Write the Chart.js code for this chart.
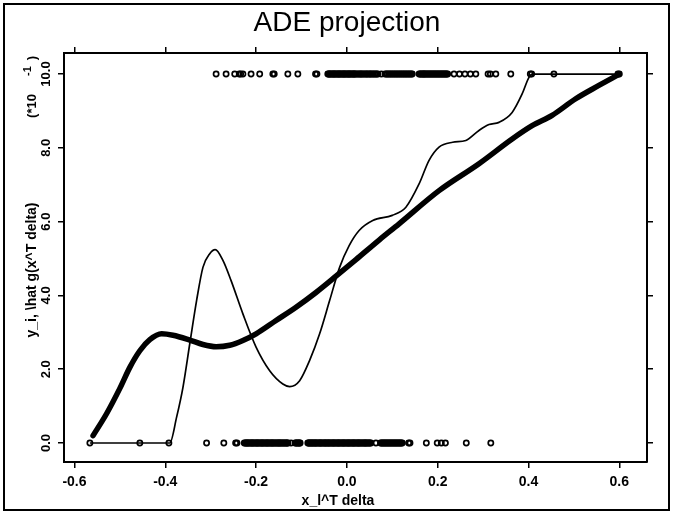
<!DOCTYPE html>
<html>
<head>
<meta charset="utf-8">
<script src="https://cdn.jsdelivr.net/npm/chart.js@4"></script>
<style>
  html, body { margin: 0; padding: 0; background: #fff; }
  canvas { display: block; }
</style>
</head>
<body>
<canvas id="chart" width="673" height="513"></canvas>
<script>
// Tick positions on the two axes
const xTickValues = [-0.6, -0.4, -0.2, 0, 0.2, 0.4, 0.6];
const yTickValues = [0, 0.2, 0.4, 0.6, 0.8, 1.0];

// ADE link estimate \hat g (thick curve)
const adeX = [-0.559, -0.529, -0.500, -0.478, -0.456, -0.434, -0.408, -0.383, -0.346, -0.317,
              -0.288, -0.258, -0.229, -0.200, -0.156, -0.112, -0.068, -0.024, 0.020, 0.071,
              0.115, 0.203, 0.291, 0.364, 0.408, 0.452, 0.504, 0.555, 0.599];
const adeY = [0.020, 0.080, 0.148, 0.205, 0.250, 0.280, 0.296, 0.292, 0.279, 0.267,
              0.261, 0.265, 0.278, 0.296, 0.332, 0.368, 0.408, 0.452, 0.497, 0.550,
              0.594, 0.684, 0.757, 0.824, 0.860, 0.888, 0.933, 0.969, 0.999];

// Kernel smooth of y_i on the projection (thin curve)
const kernelX = [-0.566, -0.390, -0.375, -0.361, -0.346, -0.331, -0.317, -0.302, -0.290, -0.273,
                 -0.255, -0.229, -0.200, -0.170, -0.141, -0.126, -0.104, -0.082, -0.060, -0.038,
                 -0.016, 0.005, 0.027, 0.057, 0.100, 0.130, 0.159, 0.181, 0.203, 0.233,
                 0.262, 0.291, 0.313, 0.335, 0.364, 0.386, 0.401, 0.408, 0.599];
const kernelY = [0.000, 0.000, 0.070, 0.151, 0.269, 0.386, 0.476, 0.513, 0.524, 0.495,
                 0.440, 0.350, 0.260, 0.196, 0.160, 0.153, 0.169, 0.224, 0.296, 0.386,
                 0.476, 0.535, 0.576, 0.603, 0.617, 0.639, 0.702, 0.766, 0.802, 0.815,
                 0.820, 0.847, 0.863, 0.869, 0.896, 0.946, 0.991, 1.000, 1.000];

// Projections x_l^T delta of the observations with y_i = 0
const obsZeroX = [-0.566, -0.456, -0.392, -0.309, -0.271, -0.245, -0.242,
  -0.226, -0.224, -0.222, -0.220, -0.219, -0.217, -0.215, -0.213, -0.211, -0.209, -0.208,
  -0.206, -0.204, -0.202, -0.200, -0.198, -0.197, -0.195, -0.193, -0.191, -0.189, -0.187,
  -0.186, -0.184, -0.182, -0.180, -0.178, -0.176, -0.175, -0.173, -0.171, -0.169, -0.167,
  -0.165, -0.164, -0.162, -0.160, -0.158, -0.156, -0.154, -0.152, -0.150, -0.149, -0.147,
  -0.145, -0.143, -0.141, -0.139, -0.137, -0.135, -0.133, -0.131, -0.130, -0.123,
  -0.114, -0.112, -0.110, -0.108, -0.106, -0.104, -0.103,
  -0.086, -0.084, -0.083, -0.081, -0.079, -0.077, -0.076, -0.074, -0.072, -0.070, -0.069,
  -0.067, -0.065, -0.063, -0.061, -0.059, -0.058, -0.056, -0.054, -0.052, -0.050, -0.048,
  -0.047, -0.045, -0.043, -0.041, -0.040, -0.038, -0.036, -0.034, -0.032, -0.030, -0.029,
  -0.027, -0.025, -0.023, -0.021, -0.019, -0.018, -0.016, -0.014, -0.012, -0.010, -0.008,
  -0.007, -0.005, -0.003, -0.001, 0.001, 0.003, 0.004, 0.006, 0.008, 0.010, 0.012, 0.014,
  0.015, 0.017, 0.019, 0.021, 0.023, 0.025, 0.026, 0.028, 0.030, 0.032, 0.034, 0.036,
  0.038, 0.040, 0.041, 0.043, 0.045, 0.047, 0.049, 0.051, 0.053, 0.064,
  0.074, 0.076, 0.078, 0.080, 0.082, 0.084, 0.086, 0.088, 0.090, 0.092, 0.094, 0.096,
  0.098, 0.100, 0.102, 0.104, 0.106, 0.108, 0.110, 0.112, 0.114, 0.116, 0.118, 0.120, 0.122,
  0.136, 0.139, 0.175, 0.199, 0.208, 0.217, 0.263, 0.317];

// Projections x_l^T delta of the observations with y_i = 1
const obsOneX = [-0.288, -0.266, -0.247, -0.237, -0.234, -0.229, -0.211, -0.192, -0.163, -0.160,
  -0.130, -0.108, -0.069, -0.066,
  -0.042, -0.040, -0.039, -0.037, -0.035, -0.033, -0.031, -0.029, -0.028, -0.026, -0.024,
  -0.022, -0.020, -0.018, -0.017, -0.015, -0.013, -0.011, -0.009, -0.007, -0.006, -0.004,
  -0.002, 0.000, 0.002, 0.004, 0.005, 0.007, 0.009, 0.011, 0.013, 0.015, 0.016, 0.018,
  0.020, 0.023, 0.025, 0.028, 0.030, 0.032, 0.034, 0.037, 0.039, 0.042, 0.044, 0.046,
  0.049, 0.051, 0.053, 0.056, 0.058, 0.061, 0.063, 0.066, 0.068, 0.076,
  0.084, 0.087, 0.089, 0.092, 0.094, 0.097, 0.099, 0.102, 0.104, 0.107, 0.109, 0.112,
  0.114, 0.117, 0.119, 0.122, 0.124, 0.127, 0.129, 0.132, 0.134, 0.137, 0.139, 0.142, 0.144,
  0.159, 0.161, 0.163, 0.165, 0.167, 0.169, 0.170, 0.172, 0.174, 0.176, 0.178, 0.180,
  0.182, 0.184, 0.186, 0.188, 0.190, 0.192, 0.194, 0.196, 0.198, 0.200, 0.202, 0.204,
  0.206, 0.208, 0.210, 0.212, 0.214, 0.216, 0.218, 0.220, 0.222,
  0.236, 0.248, 0.260, 0.272, 0.284, 0.311, 0.316, 0.328, 0.361, 0.404, 0.407, 0.456,
  0.597, 0.600];

const FONT = "'Liberation Sans', Arial, Helvetica, sans-serif";

const pairs = (xs, ys) => xs.map((x, i) => ({ x, y: ys[i] }));
const atLevel = (xs, v) => xs.map(x => ({ x, y: v }));

// Page furniture: white ground, outer box and the free-standing texts
const furniture = {
  id: 'furniture',
  beforeDraw(chart) {
    const { ctx, width, height } = chart;
    ctx.save();
    ctx.fillStyle = '#fff';
    ctx.fillRect(0, 0, width, height);
    ctx.restore();
  },
  afterDraw(chart) {
    const { ctx } = chart;
    ctx.save();
    ctx.strokeStyle = '#000';
    ctx.lineWidth = 2;
    ctx.strokeRect(4, 4, 665, 506);

    ctx.fillStyle = '#000';
    ctx.textAlign = 'center';
    ctx.textBaseline = 'alphabetic';
    ctx.font = `28px ${FONT}`;
    ctx.fillText('ADE projection', 347, 31);

    ctx.font = `bold 14px ${FONT}`;
    ctx.fillText('x_l^T delta', 338, 505);

    const vertical = (text, x, y, font) => {
      ctx.save();
      ctx.translate(x, y);
      ctx.rotate(-Math.PI / 2);
      ctx.font = font;
      ctx.textBaseline = 'middle';
      ctx.fillText(text, 0, 0);
      ctx.restore();
    };
    vertical('y_i, \\hat g(x^T delta)', 32, 270, `bold 14px ${FONT}`);
    vertical('(*10', 32, 106, `bold 13px ${FONT}`);
    vertical('-1', 28, 71, `bold 11px ${FONT}`);
    vertical(')', 32, 58, `bold 13px ${FONT}`);
    ctx.restore();
  }
};

const tickMarks = { drawOnChartArea: false, drawTicks: true, tickLength: 6, color: '#000', lineWidth: 1.5 };
const axisLine = { display: true, color: '#000', width: 2 };

function xAxis(position, showLabels, size) {
  return {
    type: 'linear', position, min: -0.623, max: 0.661,
    grid: tickMarks, border: axisLine,
    afterBuildTicks: s => { s.ticks = xTickValues.map(v => ({ value: v })); },
    afterFit: s => { s.height = size; },
    ticks: {
      display: showLabels, color: '#000', padding: 6, maxRotation: 0,
      font: { family: FONT, size: 14, weight: 'bold' },
      callback: v => Number(v).toFixed(1)
    }
  };
}

function yAxis(position, showLabels, size) {
  return {
    type: 'linear', position, min: -0.0515, max: 1.057,
    grid: tickMarks, border: axisLine,
    afterBuildTicks: s => { s.ticks = yTickValues.map(v => ({ value: v })); },
    afterFit: s => { s.width = size; },
    ticks: {
      display: showLabels, color: '#000', padding: -1,
      minRotation: 90, maxRotation: 90, crossAlign: 'center',
      font: { family: FONT, size: 13, weight: 'bold' },
      callback: v => (Number(v) * 10).toFixed(1)
    }
  };
}

const ring = {
  type: 'scatter', showLine: false, pointStyle: 'circle', pointRadius: 2.6,
  pointBorderWidth: 1.7, pointBorderColor: '#000', pointBackgroundColor: 'rgba(0,0,0,0)',
  xAxisID: 'x', yAxisID: 'y'
};

new Chart(document.getElementById('chart'), {
  type: 'line',
  data: {
    datasets: [
      { ...ring, label: 'y_i = 1', data: atLevel(obsOneX, 1) },
      { ...ring, label: 'y_i = 0', data: atLevel(obsZeroX, 0) },
      { label: '\\hat g', data: pairs(adeX, adeY), borderColor: '#000', borderWidth: 5.5,
        pointRadius: 0, cubicInterpolationMode: 'monotone', fill: false,
        borderCapStyle: 'round', borderJoinStyle: 'round', xAxisID: 'x', yAxisID: 'y' },
      { label: 'smooth', data: pairs(kernelX, kernelY), borderColor: '#000', borderWidth: 1.7,
        pointRadius: 0, cubicInterpolationMode: 'monotone', fill: false,
        xAxisID: 'x', yAxisID: 'y' }
    ]
  },
  options: {
    responsive: false, animation: false, devicePixelRatio: 1,
    layout: { padding: 0 },
    plugins: { legend: { display: false }, title: { display: false }, tooltip: { enabled: false } },
    scales: {
      x: xAxis('bottom', true, 51),
      x2: xAxis('top', false, 53),
      y: yAxis('left', true, 64),
      y2: yAxis('right', false, 26)
    }
  },
  plugins: [furniture]
});
</script>
</body>
</html>
